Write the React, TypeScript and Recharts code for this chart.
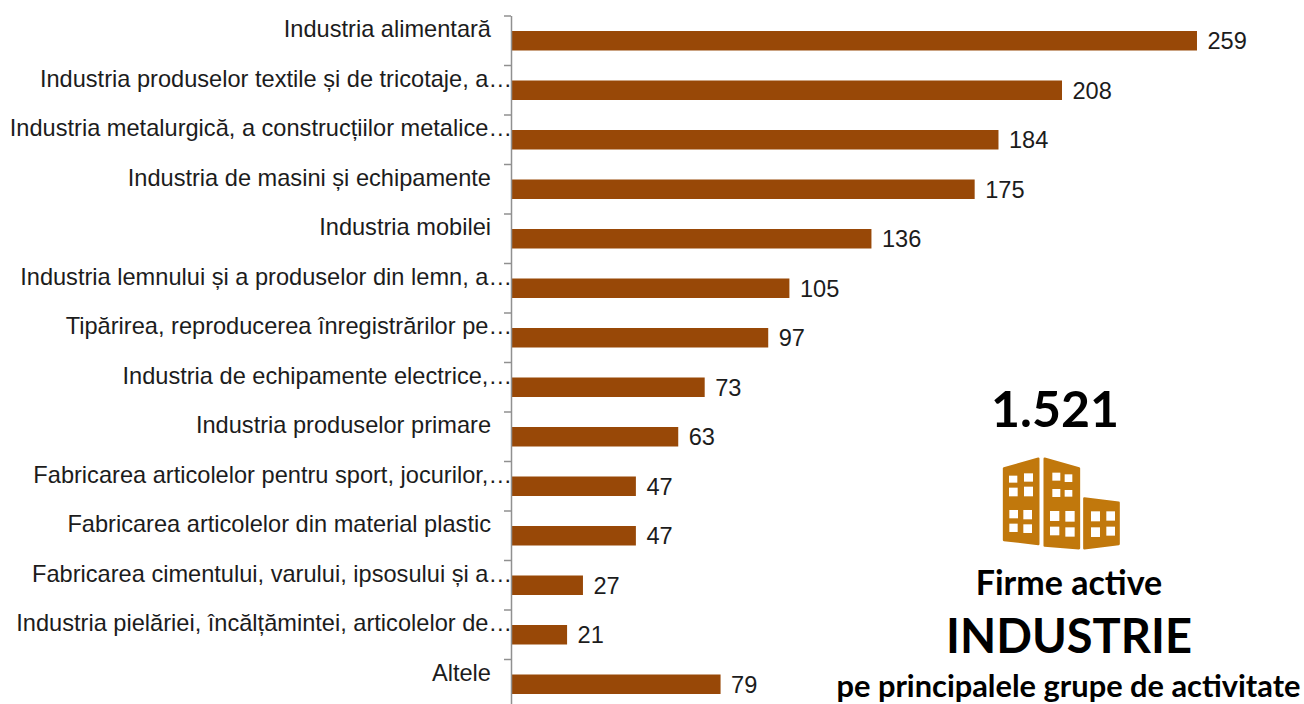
import { Bar, BarChart, LabelList, XAxis, YAxis } from 'recharts'

const categories = [
  'Industria alimentară',
  'Industria produselor textile și de tricotaje, a…',
  'Industria metalurgică, a construcțiilor metalice…',
  'Industria de masini și echipamente',
  'Industria mobilei',
  'Industria lemnului și a produselor din lemn, a…',
  'Tipărirea, reproducerea înregistrărilor pe…',
  'Industria de echipamente electrice,…',
  'Industria produselor primare',
  'Fabricarea articolelor pentru sport, jocurilor,…',
  'Fabricarea articolelor din material plastic',
  'Fabricarea cimentului, varului, ipsosului și a…',
  'Industria pielăriei, încălțămintei, articolelor de…',
  'Altele',
]
const firme = [259, 208, 184, 175, 136, 105, 97, 73, 63, 47, 47, 27, 21, 79]

const data = categories.map((name, i) => ({ name, firme: firme[i] }))

const rowHeight = 693 / 14
const axisColor = '#909090'
const textColor = '#1c1c1c'
const labelFont = '"Liberation Sans", Arial, sans-serif'
const titleFont = 'Lato, "Open Sans", sans-serif'

// etichetele sunt deasupra barei, iar liniuta cade intre categorii
function CategoryTick({ y, payload }: any) {
  const label: string = payload.value
  const end = label.endsWith('…') ? 512 : 491
  return (
    <g>
      <line x1={504} x2={511} y1={y - rowHeight / 2} y2={y - rowHeight / 2} stroke={axisColor} strokeWidth={1.5} />
      <text x={end} y={y - 3.5} textAnchor="end" fontSize={23.6} fontFamily={labelFont} fill={textColor}>
        {label}
      </text>
    </g>
  )
}

const bigBuildings = [
  '72,265 175,236 175,492 72,480',
  '194,236 297,265 297,505 194,497',
  '313,355 416,368 416,492 313,505',
]
const windowsIcon = [
  [87, 287, 25, 21], [132, 280, 27, 25], [87, 323, 26, 26], [132, 320, 27, 29],
  [88, 390, 26, 25], [130, 390, 26, 28], [88, 431, 25, 25], [130, 433, 26, 26],
  [217, 278, 24, 24], [254, 283, 23, 23], [217, 327, 24, 24], [254, 330, 23, 20],
  [210, 393, 28, 30], [256, 393, 28, 32], [210, 440, 28, 26], [256, 442, 28, 28],
  [333, 394, 27, 30], [379, 394, 26, 28], [333, 442, 27, 29], [379, 440, 26, 27],
]

function Infographic() {
  return (
    <svg width={1304} height={704} style={{ position: 'absolute', left: 0, top: 0 }}>
      <text x={1055} y={427} textAnchor="middle" fontSize={50} fontWeight={700} fontFamily={titleFont} fill="#000">1.521</text>
      <g transform="translate(980 380) scale(0.3333)">
        {bigBuildings.map((p) => (
          <polygon key={p} points={p} fill="#c1780c" stroke="#c1780c" strokeWidth={7} strokeLinejoin="round" />
        ))}
        {windowsIcon.map(([x, y, w, h]) => (
          <rect key={`${x}-${y}`} x={x} y={y} width={w} height={h} fill="#fff" />
        ))}
      </g>
      <text x={1069} y={595} textAnchor="middle" fontSize={34} fontWeight={700} fontFamily={titleFont} fill="#000">Firme active</text>
      <text x={1069} y={653} textAnchor="middle" fontSize={47} fontWeight={700} fontFamily={titleFont} fill="#000">INDUSTRIE</text>
      <text x={1068.5} y={697} textAnchor="middle" fontSize={30.8} fontWeight={700} fontFamily={titleFont} fill="#000">pe principalele grupe de activitate</text>
    </svg>
  )
}

export default function App() {
  return (
    <div style={{ position: 'absolute', left: 0, top: 0, width: 1304, height: 704, overflow: 'hidden', background: '#fff' }}>
      <BarChart
        width={1306}
        height={720}
        layout="vertical"
        data={data}
        margin={{ top: 16, right: 0.5, left: 0, bottom: 11 }}
      >
        <XAxis type="number" domain={[0, 300]} hide />
        <YAxis
          type="category"
          dataKey="name"
          width={511.5}
          interval={0}
          tickLine={false}
          axisLine={{ stroke: axisColor, strokeWidth: 1.5 }}
          tick={<CategoryTick />}
        />
        <Bar dataKey="firme" fill="#984807" barSize={19.5} isAnimationActive={false}>
          <LabelList
            dataKey="firme"
            position="right"
            offset={10.5}
            fontSize={23.6}
            fontFamily={labelFont}
            fill={textColor}
          />
        </Bar>
      </BarChart>
      <Infographic />
    </div>
  )
}
